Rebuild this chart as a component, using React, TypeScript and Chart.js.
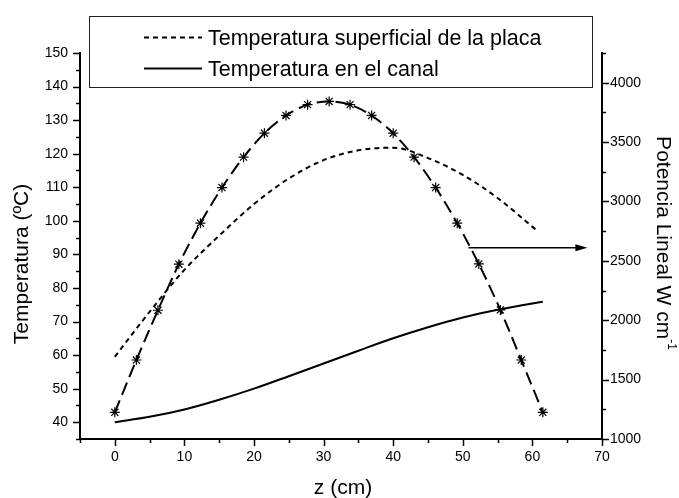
import React, { useEffect, useRef } from "react";
import { Chart, registerables } from "chart.js";

Chart.register(...registerables);

// ---- data ----
const zSurface = [0, 5, 10, 15, 20, 25, 30, 35, 40, 45, 50, 55, 60.7];
const surfaceTemp = [59.5, 72.9, 85.4, 95.6, 105.0, 112.6, 118.1, 121.0, 121.8, 118.7, 113.7, 106.8, 97.0];

const zCanal = [0, 5, 10, 15, 20, 25, 30, 35, 40, 45, 50, 55, 60, 61.5];
const canalTemp = [40, 41.6, 43.8, 46.7, 50, 53.7, 57.5, 61.3, 65, 68.3, 71.2, 73.5, 75.4, 75.9];

const zPower = [0, 3.1, 6.2, 9.2, 12.3, 15.4, 18.5, 21.5, 24.6, 27.7, 30.8, 33.8, 36.9, 40, 43, 46.1, 49.2, 52.3, 55.4, 58.4, 61.5];
const power = [1225, 1665, 2084, 2472, 2817, 3117, 3373, 3575, 3724, 3815, 3842, 3815, 3724, 3575, 3373, 3117, 2817, 2474, 2087, 1665, 1225];

const seriesLabels = ["Temperatura superficial de la placa", "Temperatura en el canal", "Potencia Lineal"];

const xRange = [-5, 70];
const yRange = [35, 150];
const y1Range = [1000, 4250];
const xStep = 5;
const yStep = 5;
const y1Step = 250;
const xLabelEvery = 10;
const yLabelEvery = 10;
const y1LabelEvery = 500;
const xFirstLabel = 0;
const yFirstLabel = 40;
const y1FirstLabel = 1000;

const xTitle = "z (cm)";
const yTitle = "Temperatura (ºC)";
const y1Title = "Potencia Lineal W cm";
const y1TitleSup = "-1";

// arrow pointing from the power curve to the right axis (data coords)
const arrowFrom = [50.8, 92];
const arrowTo = [67.9, 92];

const FONT = "'Liberation Sans', Arial, Helvetica, sans-serif";

const toXY = (xs: number[], ys: number[]) => xs.map((x, i) => ({ x, y: ys[i] }));

const labelIf = (every: number, first: number) => (v: any) => {
  const n = Number(v);
  return Math.abs(n / every - Math.round(n / every)) < 1e-6 && n >= first ? String(n) : "";
};

const decorPlugin = {
  id: "decor",
  afterDraw(chart: any) {
    const ctx = chart.ctx as CanvasRenderingContext2D;
    const { x, y, y1 } = chart.scales;
    ctx.save();
    ctx.strokeStyle = "#000";
    ctx.fillStyle = "#000";
    ctx.lineWidth = 1.5;
    ctx.setLineDash([]);
    const major = 7;
    const minor = 4;
    for (const t of x.ticks) {
      const px = Math.round(x.getPixelForValue(t.value)) + 0.5;
      const len = t.label ? major : minor;
      ctx.beginPath();
      ctx.moveTo(px, x.top);
      ctx.lineTo(px, x.top + len);
      ctx.stroke();
    }
    for (const t of y.ticks) {
      const py = Math.round(y.getPixelForValue(t.value)) + 0.5;
      const len = t.label ? major : minor;
      ctx.beginPath();
      ctx.moveTo(y.right, py);
      ctx.lineTo(y.right - len, py);
      ctx.stroke();
    }
    for (const t of y1.ticks) {
      const py = Math.round(y1.getPixelForValue(t.value)) + 0.5;
      const len = t.label ? major : minor;
      ctx.beginPath();
      ctx.moveTo(y1.left, py);
      ctx.lineTo(y1.left + len, py);
      ctx.stroke();
    }

    // arrow
    const ax0 = x.getPixelForValue(arrowFrom[0]);
    const ax1 = x.getPixelForValue(arrowTo[0]);
    const ay = y.getPixelForValue(arrowFrom[1]);
    ctx.lineWidth = 1.5;
    ctx.beginPath();
    ctx.moveTo(ax0, ay);
    ctx.lineTo(ax1 - 10, ay);
    ctx.stroke();
    ctx.beginPath();
    ctx.moveTo(ax1, ay);
    ctx.lineTo(ax1 - 12, ay - 3.5);
    ctx.lineTo(ax1 - 12, ay + 3.5);
    ctx.closePath();
    ctx.fill();

    // titles
    ctx.font = `21px ${FONT}`;
    ctx.textAlign = "center";
    ctx.textBaseline = "middle";
    ctx.fillText(xTitle, 343, 488);

    ctx.save();
    ctx.translate(28, 264);
    ctx.rotate(-Math.PI / 2);
    ctx.textBaseline = "alphabetic";
    ctx.fillText(yTitle, 0, 0);
    ctx.restore();

    ctx.save();
    ctx.translate(657, 243);
    ctx.rotate(Math.PI / 2);
    ctx.textBaseline = "alphabetic";
    ctx.font = `21px ${FONT}`;
    const mainW = ctx.measureText(y1Title).width;
    ctx.font = `12px ${FONT}`;
    const supW = ctx.measureText(y1TitleSup).width;
    const total = mainW + supW;
    ctx.textAlign = "left";
    ctx.font = `21px ${FONT}`;
    ctx.fillText(y1Title, -total / 2, 0);
    ctx.font = `12px ${FONT}`;
    ctx.fillText(y1TitleSup, -total / 2 + mainW, -11);
    ctx.restore();

    // legend
    ctx.lineWidth = 1;
    ctx.strokeStyle = "#222";
    ctx.strokeRect(89.5, 16.5, 503, 71);
    const rows = [
      { ds: chart.data.datasets[0], lineY: 37.5, baseY: 45 },
      { ds: chart.data.datasets[1], lineY: 68.5, baseY: 75.5 },
    ];
    ctx.font = `21.5px ${FONT}`;
    ctx.textAlign = "left";
    ctx.textBaseline = "alphabetic";
    for (const r of rows) {
      ctx.save();
      ctx.strokeStyle = "#000";
      ctx.lineWidth = r.ds.borderWidth;
      ctx.setLineDash(r.ds.borderDash || []);
      ctx.beginPath();
      ctx.moveTo(144, r.lineY);
      ctx.lineTo(202, r.lineY);
      ctx.stroke();
      ctx.restore();
      ctx.fillText(r.ds.label, 208, r.baseY);
    }
    ctx.restore();
  },
};

export default function App() {
  const ref = useRef<HTMLCanvasElement | null>(null);
  useEffect(() => {
    document.body.style.margin = "0";
    const canvas = ref.current!;
    Chart.defaults.font.family = FONT;
    Chart.defaults.color = "#000";
    const chart = new Chart(canvas, {
      type: "line",
      data: {
        datasets: [
          {
            label: seriesLabels[0],
            data: toXY(zSurface, surfaceTemp),
            borderColor: "#000",
            borderWidth: 2,
            borderDash: [5, 4],
            pointRadius: 0,
            cubicInterpolationMode: "monotone",
            yAxisID: "y",
          },
          {
            label: seriesLabels[1],
            data: toXY(zCanal, canalTemp),
            borderColor: "#000",
            borderWidth: 2,
            pointRadius: 0,
            cubicInterpolationMode: "monotone",
            yAxisID: "y",
          },
          {
            label: seriesLabels[2],
            data: toXY(zPower, power),
            borderColor: "#000",
            borderWidth: 2,
            borderDash: [13, 6],
            pointStyle: "star",
            pointRadius: 5,
            pointBorderWidth: 1.2,
            pointBorderColor: "#000",
            pointBackgroundColor: "#000",
            tension: 0.3,
            yAxisID: "y1",
          },
        ],
      },
      options: {
        responsive: false,
        animation: false,
        devicePixelRatio: 1,
        events: [],
        layout: { padding: { top: 53, left: 0, right: 0, bottom: 0 } },
        plugins: { legend: { display: false }, tooltip: { enabled: false }, title: { display: false } },
        scales: {
          x: {
            type: "linear",
            min: xRange[0],
            max: xRange[1],
            grid: { display: false, drawTicks: false },
            border: { display: true, color: "#000", width: 2 },
            ticks: {
              stepSize: xStep,
              autoSkip: false,
              maxRotation: 0,
              padding: 10,
              font: { size: 14 },
              callback: labelIf(xLabelEvery, xFirstLabel),
            },
            afterFit: (s: any) => {
              s.height = 59;
            },
          },
          y: {
            type: "linear",
            position: "left",
            min: yRange[0],
            max: yRange[1],
            grid: { display: false, drawTicks: false },
            border: { display: true, color: "#000", width: 2 },
            ticks: {
              stepSize: yStep,
              autoSkip: false,
              padding: 12,
              font: { size: 14 },
              callback: labelIf(yLabelEvery, yFirstLabel),
            },
            afterFit: (s: any) => {
              s.width = 80;
            },
          },
          y1: {
            type: "linear",
            position: "right",
            min: y1Range[0],
            max: y1Range[1],
            grid: { display: false, drawTicks: false },
            border: { display: true, color: "#000", width: 2 },
            ticks: {
              stepSize: y1Step,
              autoSkip: false,
              padding: 8,
              font: { size: 14 },
              callback: labelIf(y1LabelEvery, y1FirstLabel),
            },
            afterFit: (s: any) => {
              s.width = 77;
            },
          },
        },
      },
      plugins: [decorPlugin],
    } as any);
    return () => chart.destroy();
  }, []);
  return <canvas ref={ref} width={679} height={498} style={{ display: "block" }} />;
}
